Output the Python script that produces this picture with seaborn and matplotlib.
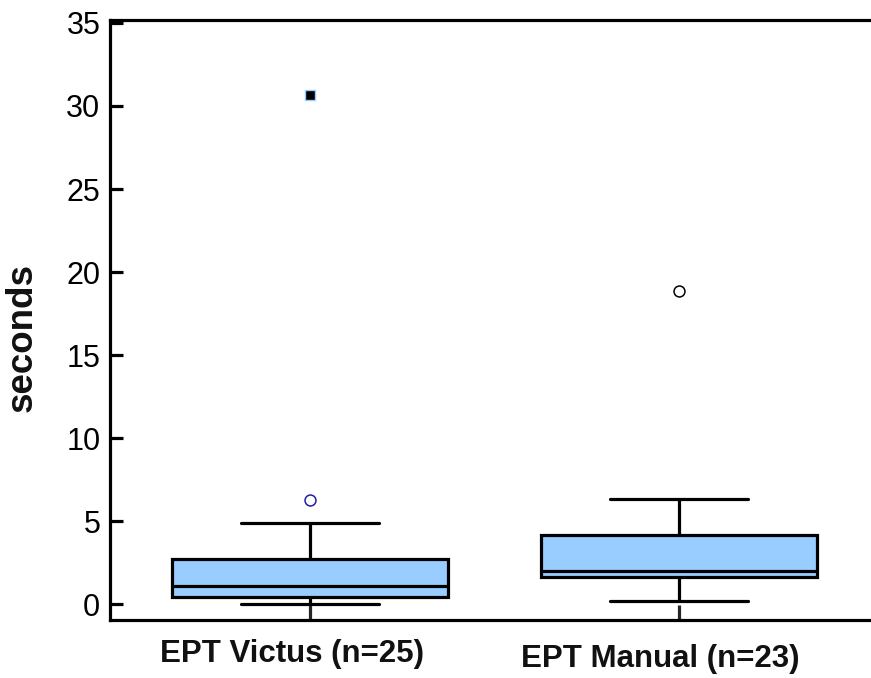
import numpy as np
import pandas as pd
import matplotlib
matplotlib.use("Agg")
import matplotlib.pyplot as plt
import seaborn as sns
from matplotlib.transforms import blended_transform_factory, offset_copy

# ---- data ----
categories = ["EPT Victus (n=25)", "EPT Manual (n=23)"]
whisker_low = [0.0, 0.18]
q1 = [0.42, 1.63]
median = [1.08, 1.99]
q3 = [2.70, 4.16]
whisker_high = [4.88, 6.33]

# outliers
outlier_groups = ["EPT Victus (n=25)", "EPT Manual (n=23)"]
outlier_values = [6.27, 18.86]
outlier_colors = ["#1f1fa8", "#000000"]
extreme_groups = ["EPT Victus (n=25)"]
extreme_values = [30.66]

yticks = [0, 5, 10, 15, 20, 25, 30, 35]
ylabel = "seconds"

# ---- build long table of box statistics ----
rows = []
for i, c in enumerate(categories):
    for v in (whisker_low[i], q1[i], median[i], q3[i], whisker_high[i]):
        rows.append({"group": c, "value": v})
df = pd.DataFrame(rows)

sns.set_theme(style="white")
plt.rcParams["font.family"] = ["Liberation Sans", "DejaVu Sans"]

fig = plt.figure(figsize=(8.71, 6.78), dpi=100)
ax = fig.add_axes([110 / 871, 1 - 620 / 678, 1 - 110 / 871, 600 / 678])

lw = 2.3
sns.boxplot(data=df, x="group", y="value", order=categories, whis=(0, 100),
            width=0.75, color="#99ccff", saturation=1, linecolor="black",
            linewidth=lw, showfliers=False, ax=ax)

for g, v, col in zip(outlier_groups, outlier_values, outlier_colors):
    sns.scatterplot(x=[g], y=[v], ax=ax, marker="o", s=62, facecolor="white",
                    edgecolor=col, linewidth=1.1, zorder=5)
sns.scatterplot(x=extreme_groups, y=extreme_values, ax=ax, marker="s", s=55,
                color="black", edgecolor="#99ccff", linewidth=1.0, zorder=5)

ax.set_xlim(-0.542, 1.52)
ax.set_ylim(-0.96, 35.18)
ax.set_yticks(yticks)
ax.set_yticklabels([str(t) for t in yticks], fontsize=22)
ax.set_xticks([0, 1])
ax.set_xticklabels(["", ""])
ax.tick_params(axis="y", direction="in", length=9.5, width=lw, pad=7,
               left=True, colors="black")
ax.tick_params(axis="x", direction="in", length=11, width=lw, bottom=True)
for s in ["left", "top", "bottom"]:
    ax.spines[s].set_visible(True)
    ax.spines[s].set_linewidth(lw)
    ax.spines[s].set_color("black")
ax.spines["right"].set_visible(False)
ax.set_xlabel("")
ax.set_ylabel("")

# category labels below the axis
trans = blended_transform_factory(ax.transData, fig.transFigure)
label_dx = [-18, -19]
label_y = [654, 659]
for i, c in enumerate(categories):
    t = offset_copy(trans, fig=fig, x=label_dx[i], y=0, units="dots")
    ax.text(i, 1 - label_y[i] / 678, c, transform=t, ha="center", va="center",
            fontsize=22.5, fontweight="bold", color="#111111")

fig.text(22 / 871, 1 - 337 / 678, ylabel, rotation=90, ha="center",
         va="center", fontsize=26.5, fontweight="bold", color="#111111")

fig.savefig("out.png", dpi=100)
